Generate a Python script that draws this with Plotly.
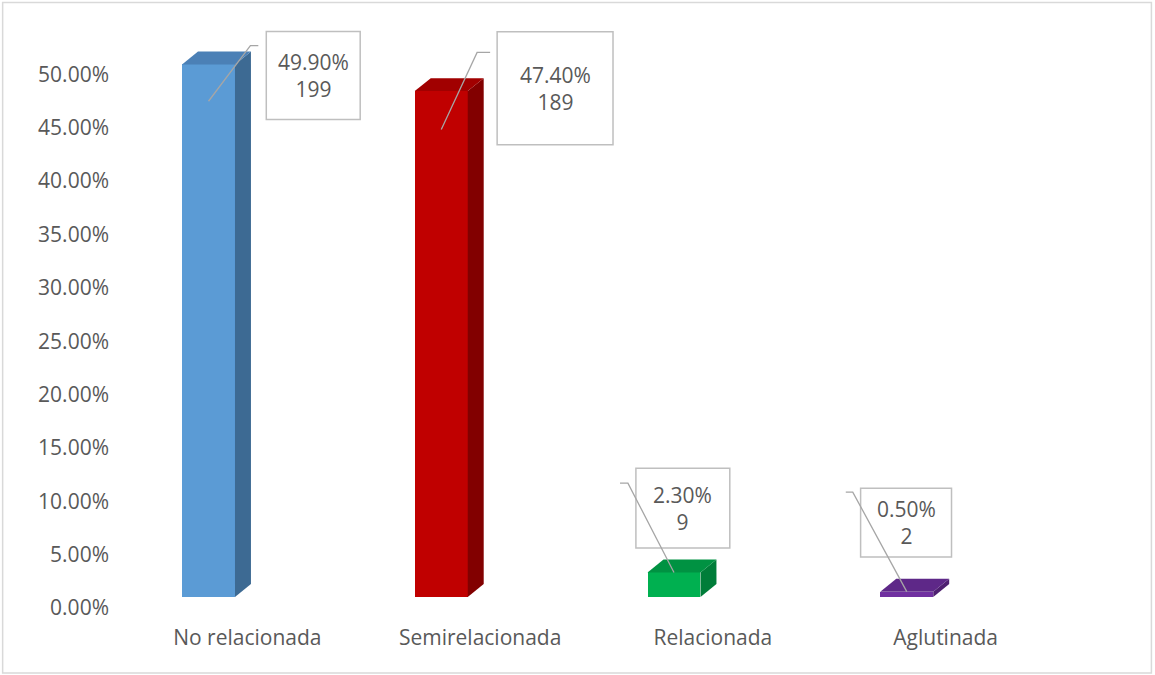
import plotly.graph_objects as go

# Category data
categories = ["No relacionada", "Semirelacionada", "Relacionada", "Aglutinada"]
percentages = [49.9, 47.4, 2.3, 0.5]
counts = [199, 189, 9, 2]
tick_values = [0, 5, 10, 15, 20, 25, 30, 35, 40, 45, 50]

# Face colours of each 3D column: front, side, top
front_colors = ["#5B9BD5", "#C00000", "#00B050", "#7030A0"]
side_colors = ["#3D6A93", "#820000", "#007D39", "#4E2070"]
top_colors = ["#4B80B6", "#A10000", "#009242", "#5E2888"]

# Layout geometry (pixels)
W, H = 1155, 675
L_M, R_M, T_M, B_M = 130.5, 92.5, 20.6, 67.0
Y_MAX = 55.0
plot_w = W - L_M - R_M
plot_h = H - T_M - B_M
px_per_x = plot_w / 4.0
px_per_y = plot_h / Y_MAX

# 3D column shape parameters
floor = 1.03            # front face sits above the axis floor
col_offset = -0.167     # front face centre relative to category
col_width = 0.2275
depth_x = 16 / px_per_x
depth_y = 13 / px_per_y

# Label boxes: centre offset (x units from category), y (axis units), box size (px)
box_dx = [0.283, 0.322, -0.129, -0.17]
box_y = [49.9, 48.7, 9.36, 8.0]
box_w = [94, 116, 94, 91]
box_h = [88, 113, 80, 69]
# Leader lines: start x, knee x (units from category), start y, drop below column top
lead_x0 = [0.047, 0.043, -0.399, -0.429]
lead_x1 = [0.013, -0.013, -0.365, -0.399]
lead_y0 = [52.7, 52.06, 11.7, 10.86]
lead_drop = [3.45, 3.6, 0.0, 0.0]

TEXT_COLOR = "#595959"
FONT = "Open Sans"

fig = go.Figure()

for i, v in enumerate(percentages):
    xl = i + col_offset - col_width / 2
    xr = i + col_offset + col_width / 2
    top = floor + v
    # side face
    fig.add_trace(go.Scatter(
        x=[xr, xr + depth_x, xr + depth_x, xr, xr],
        y=[floor, floor + depth_y, top + depth_y, top, floor],
        fill="toself", fillcolor=side_colors[i], mode="lines",
        line=dict(width=0, color=side_colors[i]), hoverinfo="skip", showlegend=False))
    # top face
    fig.add_trace(go.Scatter(
        x=[xl, xr, xr + depth_x, xl + depth_x, xl],
        y=[top, top, top + depth_y, top + depth_y, top],
        fill="toself", fillcolor=top_colors[i], mode="lines",
        line=dict(width=0, color=top_colors[i]), hoverinfo="skip", showlegend=False))

# front faces
fig.add_trace(go.Bar(
    x=[i + col_offset for i in range(len(categories))],
    y=percentages, base=[floor] * len(categories), width=col_width,
    marker=dict(color=front_colors, line=dict(width=0)),
    hoverinfo="skip", showlegend=False))

# value boxes (drawn beneath traces so the leader lines cross them)
for i, v in enumerate(percentages):
    cx = i + box_dx[i]
    hw = box_w[i] / 2 / px_per_x
    hh = box_h[i] / 2 / px_per_y
    fig.add_shape(type="rect", xref="x", yref="y",
                  x0=cx - hw, x1=cx + hw, y0=box_y[i] - hh, y1=box_y[i] + hh,
                  fillcolor="white", line=dict(color="#BFBFBF", width=1.5),
                  layer="below")
    fig.add_annotation(
        x=cx, y=box_y[i], xref="x", yref="y",
        text=f"{v:.2f}%<br>{counts[i]}", showarrow=False,
        font=dict(family=FONT, size=21, color=TEXT_COLOR),
        align="center", valign="middle")

# leader lines
for i, v in enumerate(percentages):
    end_x = i + col_offset
    end_y = floor + v - lead_drop[i]
    fig.add_trace(go.Scatter(
        x=[i + lead_x0[i], i + lead_x1[i], end_x],
        y=[lead_y0[i], lead_y0[i], end_y],
        mode="lines", line=dict(color="#A6A6A6", width=1.3),
        hoverinfo="skip", showlegend=False))

# outer chart border
def px_to_paper_x(px):
    return (px - L_M) / plot_w

def px_to_paper_y(py):
    return (H - B_M - py) / plot_h

fig.add_shape(type="rect", xref="paper", yref="paper",
              x0=px_to_paper_x(2), x1=px_to_paper_x(1152),
              y0=px_to_paper_y(673), y1=px_to_paper_y(2),
              line=dict(color="#D9D9D9", width=1.5), layer="below")

fig.update_layout(
    width=W, height=H,
    margin=dict(l=L_M, r=R_M, t=T_M, b=B_M),
    paper_bgcolor="white", plot_bgcolor="white",
    font=dict(family=FONT, size=21, color=TEXT_COLOR),
    bargap=0,
    xaxis=dict(range=[-0.5, 3.5], tickvals=list(range(len(categories))),
               ticktext=categories, showgrid=False, zeroline=False,
               showline=False, ticks="", ticklabelstandoff=15,
               tickfont=dict(size=21, color=TEXT_COLOR)),
    yaxis=dict(range=[0, Y_MAX], tickvals=tick_values,
               ticktext=[f"{t:.2f}%" for t in tick_values],
               showgrid=False, zeroline=False, showline=False, ticks="",
               ticklabelstandoff=21, tickfont=dict(size=21, color=TEXT_COLOR)),
)

fig.write_html("out.html")
